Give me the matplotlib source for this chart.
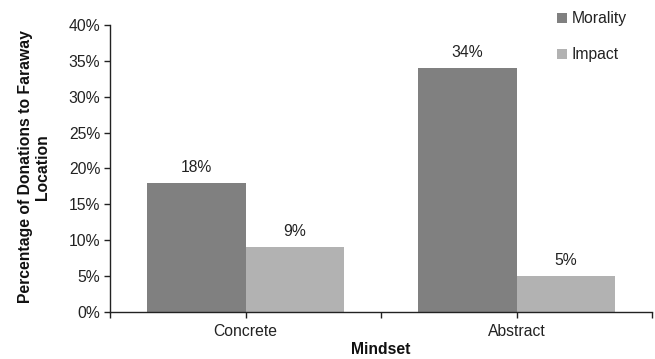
import matplotlib
matplotlib.use("Agg")
import matplotlib.pyplot as plt
import numpy as np

categories = ["Concrete", "Abstract"]
series_names = ["Morality", "Impact"]
morality = [18, 34]
impact = [9, 5]
y_ticks = [0, 5, 10, 15, 20, 25, 30, 35, 40]

colors = ["#808080", "#b2b2b2"]
fs = 11.3

plt.rcParams["font.family"] = ["Liberation Sans", "DejaVu Sans"]

fig = plt.figure(figsize=(6.55, 3.59), dpi=100)
ax = fig.add_axes([110 / 655, 1 - 311.7 / 359, (652 - 110) / 655, (311.7 - 25) / 359])

x = np.arange(len(categories))
w = 0.362
for i, (vals, name, c) in enumerate(zip([morality, impact], series_names, colors)):
    pos = x + (i - 0.5) * w
    ax.bar(pos, vals, width=w, color=c, label=name, zorder=2)
    for p, v in zip(pos, vals):
        ax.text(p, v + 1.1, f"{v}%", ha="center", va="bottom", fontsize=fs, color="#222222")

ax.set_xlim(-0.5, 1.5)
ax.set_ylim(0, 40)
ax.set_yticks(y_ticks)
ax.set_yticklabels([f"{t}%" for t in y_ticks], fontsize=fs, color="#222222")
ax.set_xticks(x)
ax.set_xticklabels(categories, fontsize=fs, color="#222222")
ax.set_xticks([-0.5, 0.5, 1.5], minor=True)
ax.tick_params(axis="x", which="both", direction="out", length=4, width=1, color="#222222", pad=5)
ax.tick_params(axis="y", direction="out", length=4, width=1, color="#222222", pad=3)

for s in ["top", "right"]:
    ax.spines[s].set_visible(False)
for s in ["left", "bottom"]:
    ax.spines[s].set_color("#222222")
    ax.spines[s].set_linewidth(1)

ax.set_xlabel("Mindset", fontsize=fs, fontweight="bold", labelpad=2, color="#111111")
ax.set_ylabel("Percentage of Donations to Faraway\nLocation", fontsize=fs,
              fontweight="bold", color="#111111", linespacing=1.17)
ax.yaxis.set_label_coords(-0.111, 0.505)

leg = ax.legend(loc="upper left", bbox_to_anchor=(0.814, 1.07), frameon=False,
                fontsize=fs, handlelength=0.6, handleheight=0.6, handletextpad=0.3,
                labelspacing=1.35, borderaxespad=0)
for t in leg.get_texts():
    t.set_color("#222222")

fig.savefig("out.png", dpi=100)
